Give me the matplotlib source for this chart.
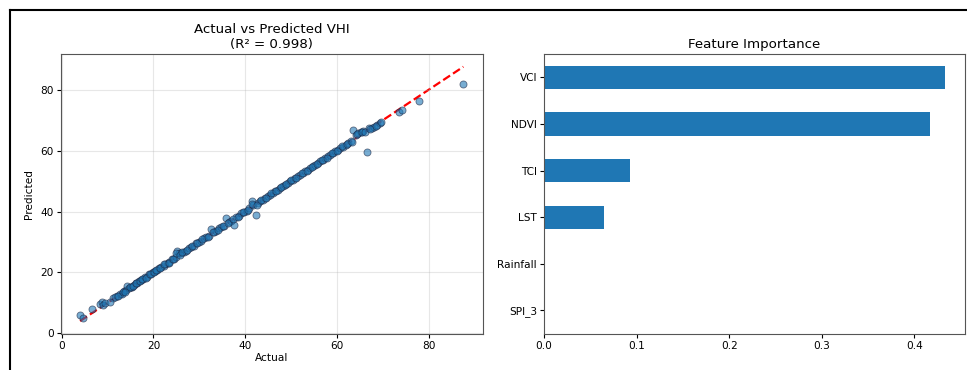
import numpy as np
import matplotlib
matplotlib.use("Agg")
import matplotlib.pyplot as plt
from matplotlib.lines import Line2D

# --- Data ---
actual = [4.0, 4.6, 6.5, 8.3, 8.8, 9.1, 9.4, 11.2, 12.0, 12.6, 13.1, 13.5, 14.0, 14.3, 14.6,
          15.0, 15.4, 15.8, 16.1, 16.5, 16.9, 17.3, 17.8, 18.2, 18.6, 19.0, 19.5, 19.9, 20.4,
          20.8, 21.3, 21.7, 22.2, 22.6, 23.1, 23.5, 24.0, 24.4, 24.9, 25.2, 25.5, 26.0, 26.6,
          27.1, 27.7, 28.2, 28.8, 29.3, 29.9, 30.4, 31.0, 31.5, 32.1, 32.6, 33.2, 33.7, 34.3,
          34.8, 35.4, 35.9, 36.5, 37.0, 37.6, 38.1, 38.7, 39.2, 39.8, 40.3, 40.9, 41.4, 41.8,
          42.3, 42.7, 43.2, 43.8, 44.3, 44.9, 45.4, 46.0, 46.5, 47.1, 47.6, 48.2, 48.7, 49.3,
          49.8, 50.4, 50.9, 51.5, 52.0, 52.6, 53.1, 53.7, 54.2, 54.8, 55.3, 55.9, 56.4, 57.0,
          57.5, 58.1, 58.6, 59.2, 59.7, 60.3, 60.8, 61.4, 61.9, 62.5, 63.0, 63.6, 64.1, 64.6,
          65.2, 65.8, 66.5, 67.0, 67.6, 68.2, 68.8, 69.4, 73.6, 74.2, 78.0, 87.6,
          10.5, 11.6, 12.3, 13.3, 13.8, 14.8, 15.6, 16.3, 17.1, 17.6, 18.4, 19.2, 20.1, 20.6,
          21.5, 22.4, 23.3, 24.2, 25.0, 25.8, 26.3, 27.4, 28.5, 29.6, 30.7, 31.8, 32.9, 34.0,
          35.1, 36.2, 37.3, 38.4, 39.5, 40.6, 41.6, 42.5, 43.5, 44.6, 45.7, 46.8, 47.9, 49.0,
          50.1, 51.2, 52.3, 53.4, 54.5, 55.6, 56.7, 57.8, 58.9, 60.0, 61.1, 62.2, 63.3, 64.4,
          65.5, 66.2, 67.3, 68.5, 69.7]
predicted = [6.0, 5.0, 7.8, 9.6, 10.1, 9.2, 9.8, 11.5, 12.2, 12.9, 13.0, 13.9, 14.1, 15.6, 14.8,
             15.2, 15.3, 16.0, 16.4, 16.4, 17.1, 17.5, 17.7, 18.5, 18.6, 19.3, 19.4, 20.2, 20.6,
             20.7, 21.5, 21.9, 22.1, 22.9, 23.2, 23.4, 24.3, 24.5, 25.1, 27.0, 26.3, 26.2, 26.8,
             27.0, 27.9, 28.4, 28.7, 29.5, 30.1, 30.3, 31.2, 31.7, 32.0, 34.3, 33.4, 33.6, 34.5,
             35.0, 35.3, 37.8, 36.7, 36.9, 35.6, 38.3, 38.6, 39.4, 40.0, 40.2, 41.1, 43.6, 42.0,
             39.0, 42.9, 43.4, 43.7, 44.5, 45.0, 45.3, 46.2, 46.6, 47.0, 47.8, 48.3, 48.6, 49.5,
             49.9, 50.3, 51.1, 51.6, 51.9, 52.8, 53.2, 53.6, 54.4, 54.9, 55.2, 56.1, 56.5, 56.9,
             57.7, 58.2, 58.5, 59.4, 59.8, 60.2, 61.0, 61.3, 62.0, 62.4, 63.2, 66.7, 65.0, 65.9,
             66.2, 66.6, 59.5, 67.3, 67.5, 67.8, 68.5, 69.1, 72.8, 73.4, 76.2, 82.0,
             10.3, 11.9, 12.1, 13.6, 13.7, 15.1, 15.5, 16.6, 17.0, 17.9, 18.3, 19.5, 20.0, 20.9,
             21.4, 22.7, 23.2, 24.5, 26.4, 25.7, 26.6, 27.3, 28.8, 29.5, 31.0, 31.7, 33.2, 33.9,
             35.4, 36.1, 37.6, 38.3, 39.8, 40.5, 42.4, 42.3, 43.8, 44.5, 46.0, 46.7, 48.2, 48.9,
             50.4, 51.1, 52.6, 53.3, 54.8, 55.5, 57.0, 57.7, 59.2, 59.9, 61.4, 62.1, 63.0, 65.4,
             66.0, 66.3, 67.0, 68.2, 69.3]
r2_score = 0.998

features = ["SPI_3", "Rainfall", "LST", "TCI", "NDVI", "VCI"]
importance = [0.0004, 0.0006, 0.065, 0.093, 0.417, 0.433]

fig = plt.figure(figsize=(9.67, 3.7), dpi=100)

# Left: actual vs predicted
ax1 = fig.add_axes([0.063, 0.098, 0.436, 0.756])
ax1.plot([min(actual), max(actual)], [min(actual), max(actual)], "r--", lw=1.6, zorder=1)
ax1.scatter(actual, predicted, s=26, alpha=0.6, color="#1f77b4", edgecolors="#1a2340",
            linewidths=0.6, zorder=2)
ax1.set_title(f"Actual vs Predicted VHI\n(R\u00b2 = {r2_score})", fontsize=9.6, pad=4)
ax1.set_xlabel("Actual", fontsize=7.6, labelpad=2)
ax1.set_ylabel("Predicted", fontsize=7.6, labelpad=5)
ax1.set_xticks([0, 20, 40, 60, 80])
ax1.set_yticks([0, 20, 40, 60, 80])
ax1.tick_params(labelsize=7.6, length=3, pad=2)
ax1.grid(True, alpha=0.3)

# Right: feature importance
ax2 = fig.add_axes([0.5625, 0.098, 0.4355, 0.756])
ax2.barh(range(len(features)), importance, height=0.5, color="#1f77b4")
ax2.set_yticks(range(len(features)))
ax2.set_yticklabels(features)
ax2.set_ylim(-0.5, len(features) - 0.5)
ax2.set_xlim(0, max(importance) * 1.05)
ax2.set_xticks([0.0, 0.1, 0.2, 0.3, 0.4])
ax2.set_title("Feature Importance", fontsize=9.6, pad=4)
ax2.tick_params(labelsize=7.6, length=3, pad=2)

for ax in (ax1, ax2):
    for sp in ax.spines.values():
        sp.set_color("#555555")

# document frame lines around the screenshot
fig.add_artist(Line2D([10 / 967, 1.0], [1 - 10 / 370, 1 - 10 / 370], color="black", lw=1.5))
fig.add_artist(Line2D([10 / 967, 10 / 967], [0.0, 1 - 10 / 370], color="black", lw=1.5))

fig.savefig("out.png", dpi=100)
